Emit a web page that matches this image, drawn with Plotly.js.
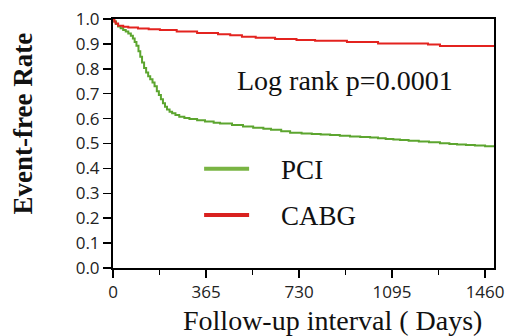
<!DOCTYPE html>
<html>
<head>
<meta charset="utf-8">
<script src="https://cdn.plot.ly/plotly-3.0.1.min.js"></script>
<style>html,body{margin:0;padding:0;background:#fff;}#chart{width:506px;height:336px;}</style>
</head>
<body>
<div id="chart"></div>
<script>
// Follow-up days and event-free rate
const pciDays = [0, 5, 12, 20, 30, 40, 50, 60, 70, 78, 85, 92, 100, 107, 114, 122, 130, 138, 146, 155, 163, 172, 180, 188, 196, 204, 212, 222, 232, 245, 260, 280, 300, 330, 361, 395, 420, 467, 510, 550, 590, 620, 660, 695, 740, 780, 815, 852, 890, 930, 970, 1009, 1040, 1070, 1100, 1126, 1160, 1200, 1240, 1283, 1320, 1350, 1385, 1420, 1460, 1495];
const pciRate = [1.0, 0.99, 0.98, 0.97, 0.963, 0.956, 0.95, 0.942, 0.933, 0.922, 0.908, 0.893, 0.87, 0.848, 0.825, 0.803, 0.785, 0.77, 0.758, 0.745, 0.73, 0.71, 0.695, 0.678, 0.662, 0.648, 0.637, 0.628, 0.621, 0.614, 0.607, 0.602, 0.598, 0.593, 0.588, 0.583, 0.580, 0.574, 0.568, 0.563, 0.559, 0.555, 0.549, 0.543, 0.540, 0.538, 0.536, 0.534, 0.531, 0.528, 0.526, 0.524, 0.521, 0.518, 0.516, 0.514, 0.511, 0.508, 0.505, 0.501, 0.498, 0.496, 0.494, 0.492, 0.489, 0.487];
const cabgDays = [0, 5, 10, 20, 40, 60, 98, 140, 184, 250, 330, 412, 460, 506, 560, 636, 720, 793, 918, 1040, 1236, 1283, 1495];
const cabgRate = [1.0, 0.99, 0.982, 0.973, 0.969, 0.966, 0.962, 0.959, 0.956, 0.950, 0.944, 0.939, 0.935, 0.929, 0.925, 0.920, 0.916, 0.913, 0.908, 0.902, 0.898, 0.892, 0.892];

const xTicks = [0, 365, 730, 1095, 1460];
const xMinorTicks = [182.5, 547.5, 912.5, 1277.5];
const yTicks = [0, 0.1, 0.2, 0.3, 0.4, 0.5, 0.6, 0.7, 0.8, 0.9, 1.0];
const yTickText = ['0.0', '0.1', '0.2', '0.3', '0.4', '0.5', '0.6', '0.7', '0.8', '0.9', '1.0'];
const seriesNames = ['PCI', 'CABG'];
const greenC = '#5ca52f', redC = '#e3231f';
const pad = '\u00a0\u00a0\u00a0\u00a0';

const traces = [
  {x: pciDays, y: pciRate, mode: 'lines', line: {color: greenC, width: 2, shape: 'hv'}, showlegend: false},
  {x: cabgDays, y: cabgRate, mode: 'lines', line: {color: redC, width: 2, shape: 'hv'}, showlegend: false},
  {x: [null], y: [null], mode: 'lines', name: pad + seriesNames[0], line: {color: '#79b443', width: 4}, legendgroup: 'a'},
  {x: [null], y: [null], mode: 'lines', name: pad + seriesNames[1], line: {color: '#d9211f', width: 4}, legendgroup: 'b'}
];

const serif = 'Liberation Serif, Times New Roman, serif';
const tickFont = {family: 'Open Sans, sans-serif', size: 17, color: '#222'};
const layout = {
  width: 506, height: 336,
  margin: {l: 113, r: 12, t: 19, b: 68},
  paper_bgcolor: '#fff', plot_bgcolor: '#fff',
  showlegend: true,
  legend: {x: 0.226, y: 0.495, xanchor: 'left', yanchor: 'top', bgcolor: 'rgba(0,0,0,0)',
           font: {family: serif, size: 27, color: '#111'}, itemwidth: 45, tracegroupgap: 8, traceorder: 'grouped'},
  xaxis: {range: [0, 1495], tickmode: 'array', tickvals: xTicks, ticks: 'outside', ticklen: 8, tickwidth: 1.5, tickcolor: '#000',
          showline: true, linecolor: '#000', linewidth: 2, mirror: true, showgrid: false, zeroline: false,
          tickfont: tickFont,
          minor: {tickvals: xMinorTicks, ticks: 'outside', ticklen: 5, tickwidth: 1.5, tickcolor: '#000', showgrid: false}},
  yaxis: {range: [0, 1], tickmode: 'array', tickvals: yTicks, ticktext: yTickText, ticks: 'outside', ticklen: 8, tickwidth: 1.5, tickcolor: '#000',
          showline: true, linecolor: '#000', linewidth: 2, mirror: true, showgrid: false, zeroline: false,
          tickfont: tickFont},
  annotations: [
    {text: 'Log rank p=0.0001', xref: 'paper', yref: 'paper', x: (345 - 113) / 381, y: (268 - 80) / 249,
     xanchor: 'center', yanchor: 'middle', showarrow: false, font: {family: serif, size: 28, color: '#111'}},
    {text: '<b>Event-free Rate</b>', xref: 'paper', yref: 'paper', x: (22 - 113) / 381, y: (268 - 123.5) / 249,
     xanchor: 'center', yanchor: 'middle', textangle: -90, showarrow: false, font: {family: serif, size: 27, color: '#111'}},
    {text: 'Follow-up interval ( Days)', xref: 'paper', yref: 'paper', x: (332.5 - 113) / 381, y: (268 - 320) / 249,
     xanchor: 'center', yanchor: 'middle', showarrow: false, font: {family: serif, size: 28, color: '#111'}}
  ]
};
Plotly.newPlot('chart', traces, layout, {displayModeBar: false, staticPlot: true});
</script>
</body>
</html>
